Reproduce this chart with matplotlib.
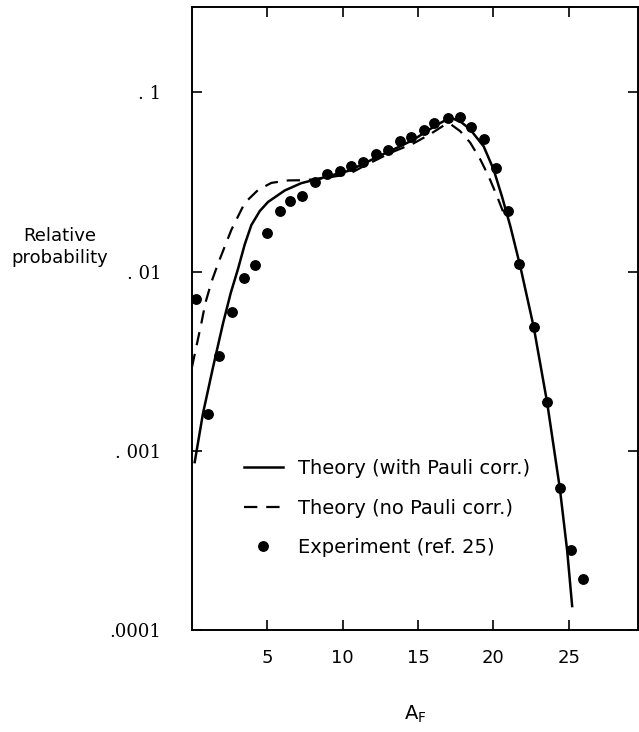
import matplotlib
matplotlib.use("Agg")
import matplotlib.pyplot as plt

# experiment (ref. 25)
exp_a = [0.27, 1.04, 1.82, 2.66, 3.48, 4.19, 5.0, 5.83, 6.53, 7.33, 8.17, 8.95,
         9.79, 10.54, 11.38, 12.2, 13.0, 13.78, 14.53, 15.37, 16.08, 16.97,
         17.76, 18.52, 19.36, 20.18, 20.95, 21.73, 22.68, 23.57, 24.41, 25.16, 25.96]
exp_p = [0.00706, 0.00161, 0.00337, 0.00597, 0.00919, 0.0109, 0.0164, 0.0217,
         0.0248, 0.0263, 0.0315, 0.0351, 0.0366, 0.0387, 0.0408, 0.0454, 0.0475,
         0.0534, 0.0565, 0.0621, 0.0677, 0.0722, 0.0727, 0.0643, 0.0551, 0.0379,
         0.0219, 0.0110, 0.00492, 0.00188, 0.000621, 0.000280, 0.000192]

# theory with Pauli correction
pauli_a = [0.18, 0.73, 1.40, 2.06, 2.57, 3.06, 3.50, 3.94, 4.5, 5.05, 6.16, 7.26,
           8.59, 10.37, 11.38, 12.5, 13.6, 14.7, 15.8, 16.4, 16.92, 17.36, 17.9,
           18.47, 19.36, 20.02, 20.57, 21.13, 21.79, 22.68, 23.57, 24.41, 24.9,
           25.23]
pauli_p = [0.000865, 0.00162, 0.00294, 0.00515, 0.0076, 0.0104, 0.0142, 0.0182,
           0.0218, 0.0245, 0.0284, 0.0312, 0.0333, 0.0365, 0.0400, 0.0445, 0.0491,
           0.0545, 0.0625, 0.0670, 0.0707, 0.0713, 0.0680, 0.0621, 0.0500, 0.0371,
           0.0263, 0.0179, 0.01067, 0.0049, 0.00186, 0.00062, 0.000277, 0.000136]

# theory without Pauli correction
nop_a = [0.0, 0.62, 0.89, 1.30, 1.73, 2.61, 3.50, 4.39, 5.27, 6.38, 7.49, 8.6,
         10.4, 11.4, 13.16, 14.7, 15.8, 16.8, 17.14, 17.8, 18.47, 19.14, 19.69,
         20.25, 20.8]
nop_p = [0.00294, 0.00515, 0.0067, 0.0088, 0.0111, 0.0171, 0.0242, 0.0286,
         0.0313, 0.0323, 0.0324, 0.0331, 0.0350, 0.0388, 0.0460, 0.0520, 0.0585,
         0.0662, 0.0668, 0.0608, 0.0524, 0.0422, 0.0340, 0.0263, 0.0200]

yticks = [1e-4, 1e-3, 1e-2, 1e-1]
ytick_labels = [".0001", ". 001", ". 01", ". 1"]
xticks = [5, 10, 15, 20, 25]

plt.rcParams["font.family"] = ["DejaVu Sans"]
fig = plt.figure(figsize=(6.39, 7.32), dpi=100)
ax = fig.add_axes([192 / 639, 1 - 630 / 732, 446 / 639, 623 / 732])

ax.plot(pauli_a, pauli_p, "-", color="black", lw=1.8,
        label="Theory (with Pauli corr.)")
ax.plot(nop_a, nop_p, "--", color="black", lw=1.6, dashes=(6, 4),
        label="Theory (no Pauli corr.)")
ax.plot(exp_a, exp_p, "o", color="black", ms=6.8, ls="none",
        label="Experiment (ref. 25)")

ax.set_yscale("log")
ax.set_xlim(0, 29.6)
ax.set_ylim(1e-4, 0.30)
ax.set_yticks(yticks)
ax.set_yticklabels(ytick_labels, family="DejaVu Serif", fontsize=13)
ax.minorticks_off()
ax.set_xticks(xticks)
ax.set_xticklabels([str(t) for t in xticks], fontsize=13)
ax.tick_params(direction="in", length=7, width=1.2, top=True, right=True)
ax.tick_params(axis="y", pad=22)
ax.tick_params(axis="x", pad=14)
for s in ax.spines.values():
    s.set_linewidth(1.4)

ax.set_xlabel(r"$\mathregular{A_F}$", fontsize=14, labelpad=26)
fig.text(60 / 639, 1 - 247 / 732, "Relative\nprobability", ha="center",
         va="center", fontsize=13, linespacing=1.3)

ax.legend(loc="center left", bbox_to_anchor=(52 / 446, 122 / 623), frameon=False,
          fontsize=14, handlelength=2.0, handletextpad=0.8, labelspacing=1.05,
          borderpad=0, borderaxespad=0, numpoints=1)

fig.savefig("out.png", dpi=100)
